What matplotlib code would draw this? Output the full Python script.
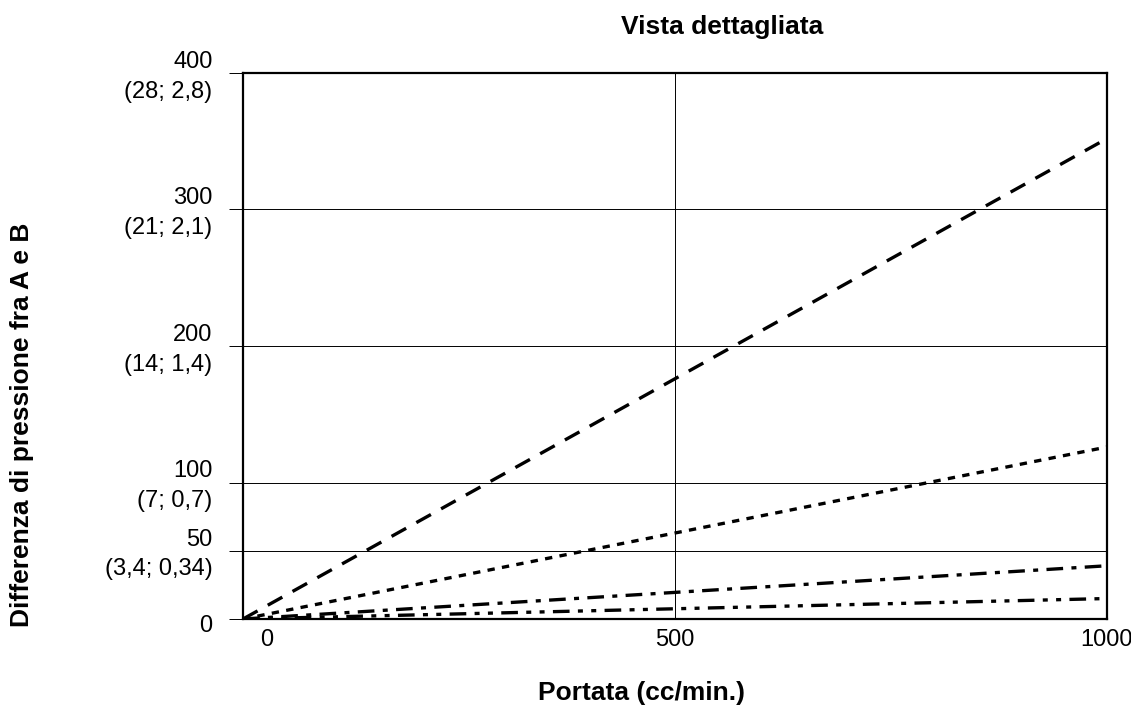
import matplotlib.pyplot as plt
import matplotlib.transforms as mtransforms

plt.rcParams["font.family"] = ["Liberation Sans", "DejaVu Sans"]

# dati
portata = [0, 1000]
serie_a = [0, 352]
serie_b = [0, 126]
serie_c = [0, 39]
serie_d = [0, 15]

y_ticks = [0, 50, 100, 200, 300, 400]
y_labels = ["0", "50\n(3,4; 0,34)", "100\n(7; 0,7)", "200\n(14; 1,4)",
            "300\n(21; 2,1)", "400\n(28; 2,8)"]
x_ticks = [0, 500, 1000]
x_labels = ["0", "500", "1000"]

fig = plt.figure(figsize=(11.31, 7.13), dpi=100)
ax = fig.add_axes([243 / 1131, 1 - 619 / 713, 864 / 1131, 546 / 713])

ax.plot(portata, serie_a, color="black", lw=2.4, dashes=(5, 3.5))
ax.plot(portata, serie_b, color="black", lw=2.4, dashes=(2.2, 2.2))
ax.plot(portata, serie_c, color="black", lw=2.4, dashes=(5, 2.5, 1.5, 2.5))
ax.plot(portata, serie_d, color="black", lw=2.4, dashes=(5, 2.5, 1.5, 2.5, 1.5, 2.5))

ax.set_xlim(0, 1000)
ax.set_ylim(0, 400)

for v in [50, 100, 200, 300]:
    ax.axhline(v, color="black", lw=0.7, zorder=0)
ax.axvline(500, color="black", lw=0.7, zorder=0)

ax.set_yticks(y_ticks)
ax.set_yticklabels(y_labels, fontsize=17, linespacing=1.45)
ax.tick_params(axis="y", length=10, width=0.7, pad=12)
ax.set_xticks(x_ticks)
ax.set_xticklabels(x_labels, fontsize=17)
ax.tick_params(axis="x", length=0, pad=7)

# spostamenti manuali delle etichette
up = mtransforms.ScaledTranslation(0, 0.025, fig.dpi_scale_trans)
for lbl in ax.get_yticklabels()[1:]:
    lbl.set_transform(lbl.get_transform() + up)
lbl0 = ax.get_xticklabels()[0]
lbl0.set_transform(lbl0.get_transform() + mtransforms.ScaledTranslation(0.24, 0, fig.dpi_scale_trans))
lbl_zero_y = ax.get_yticklabels()[0]
lbl_zero_y.set_transform(lbl_zero_y.get_transform() + mtransforms.ScaledTranslation(0, -0.04, fig.dpi_scale_trans))

for s in ax.spines.values():
    s.set_linewidth(1.6)

fig.text(722 / 1131, 1 - 27 / 713, "Vista dettagliata", fontsize=19, fontweight="bold",
         ha="center", va="center")
fig.text(642 / 1131, 1 - 693 / 713, "Portata (cc/min.)", fontsize=19, fontweight="bold",
         ha="center", va="center")
fig.text(22 / 1131, 1 - 425 / 713, "Differenza di pressione fra A e B", fontsize=19,
         fontweight="bold", ha="center", va="center", rotation=90)

fig.savefig("out.png", dpi=100)
